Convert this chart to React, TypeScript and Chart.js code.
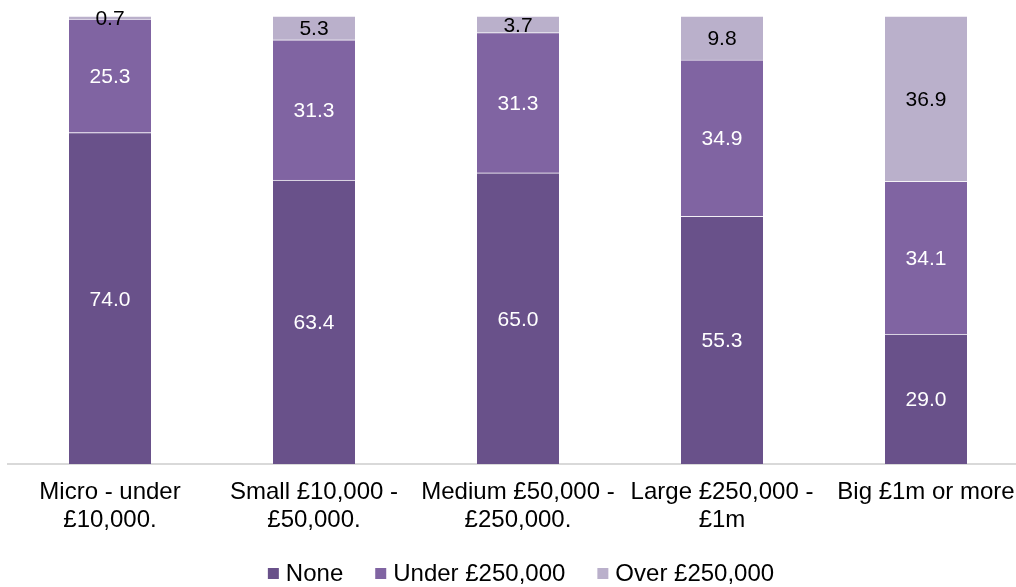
import React, { useEffect, useRef } from 'react';
import { Chart, registerables } from 'chart.js';

Chart.register(...registerables);

const categories: string[][] = [
  ['Micro - under', '£10,000.'],
  ['Small £10,000 -', '£50,000.'],
  ['Medium £50,000 -', '£250,000.'],
  ['Large £250,000 -', '£1m'],
  ['Big £1m or more'],
];
const seriesNames = ['None', 'Under £250,000', 'Over £250,000'];
const noneValues = [74.0, 63.4, 65.0, 55.3, 29.0];
const underValues = [25.3, 31.3, 31.3, 34.9, 34.1];
const overValues = [0.7, 5.3, 3.7, 9.8, 36.9];

const seriesColors = ['#69518A', '#8064A2', '#BAB0CB'];
const labelColors = ['#FFFFFF', '#FFFFFF', '#000000'];
const FONT = '"Liberation Sans", Arial, sans-serif';

const CAT_PX = 204;
const AREA_W = 1008;

const dataLabelPlugin = {
  id: 'dataLabels',
  afterDatasetsDraw(chart: any) {
    const ctx = chart.ctx;
    ctx.save();
    ctx.font = `21px ${FONT}`;
    ctx.textAlign = 'center';
    ctx.textBaseline = 'middle';
    chart.data.datasets.forEach((ds: any, di: number) => {
      const meta = chart.getDatasetMeta(di);
      meta.data.forEach((el: any, i: number) => {
        const v = ds.data[i].y;
        const p = el.getProps(['x', 'y', 'base'], true);
        ctx.fillStyle = labelColors[di];
        ctx.fillText(v.toFixed(1), p.x, (p.y + p.base) / 2 + 1.5);
      });
    });
    ctx.restore();
  },
};

const legendPlugin = {
  id: 'customLegend',
  afterDraw(chart: any) {
    const ctx = chart.ctx;
    ctx.save();
    ctx.font = `24px ${FONT}`;
    ctx.textBaseline = 'middle';
    ctx.textAlign = 'left';
    const box = 11;
    const gap = 7;
    const itemGap = 32;
    const widths = seriesNames.map((n) => box + gap + ctx.measureText(n).width);
    const total = widths.reduce((a, b) => a + b, 0) + itemGap * (widths.length - 1);
    let x = 521 - total / 2;
    const cy = 573.5;
    seriesNames.forEach((n, i) => {
      ctx.fillStyle = seriesColors[i];
      ctx.fillRect(x, cy - box / 2, box, box);
      ctx.fillStyle = '#000000';
      ctx.fillText(n, x + box + gap, cy + 1);
      x += widths[i] + itemGap;
    });
    ctx.restore();
  },
};

export default function App() {
  const ref = useRef<HTMLCanvasElement | null>(null);
  useEffect(() => {
    if (!ref.current) return;
    const series = [noneValues, underValues, overValues];
    const chart = new Chart(ref.current, {
      type: 'bar',
      data: {
        datasets: series.map((vals, si) => ({
          label: seriesNames[si],
          data: vals.map((v, i) => ({ x: i, y: v })),
          backgroundColor: seriesColors[si],
          borderColor: 'rgba(255,255,255,0.25)',
          borderWidth: { top: 1, left: 0, right: 0, bottom: 0 },
          borderSkipped: false,
          barThickness: 82,
        })),
      },
      options: {
        animation: false,
        responsive: true,
        maintainAspectRatio: false,
        layout: { padding: { left: 8, right: 0, top: 16, bottom: 40 } },
        plugins: {
          legend: { display: false },
          tooltip: { enabled: false },
        },
        scales: {
          x: {
            type: 'linear',
            stacked: true,
            offset: false,
            min: -0.5,
            max: -0.5 + AREA_W / CAT_PX,
            grid: { display: false, drawTicks: false, offset: false },
            border: { display: true, color: '#D9D9D9', width: 2 },
            afterBuildTicks: (scale: any) => {
              scale.ticks = categories.map((_, i) => ({ value: i }));
            },
            afterFit: (scale: any) => {
              scale.height = 83;
              scale.paddingLeft = 0;
              scale.paddingRight = 0;
            },
            ticks: {
              autoSkip: false,
              maxRotation: 0,
              minRotation: 0,
              padding: 15,
              color: '#000000',
              font: { family: FONT, size: 24, lineHeight: 1.15 },
              callback: (value: any) => categories[Math.round(Number(value))] ?? '',
            },
          },
          y: {
            type: 'linear',
            stacked: true,
            display: false,
            min: 0,
            max: 100,
          },
        },
      } as any,
      plugins: [dataLabelPlugin, legendPlugin],
    });
    return () => chart.destroy();
  }, []);
  return (
    <div style={{ position: 'absolute', left: 0, top: 0, width: 1016, height: 587 }}>
      <canvas ref={ref} />
    </div>
  );
}
